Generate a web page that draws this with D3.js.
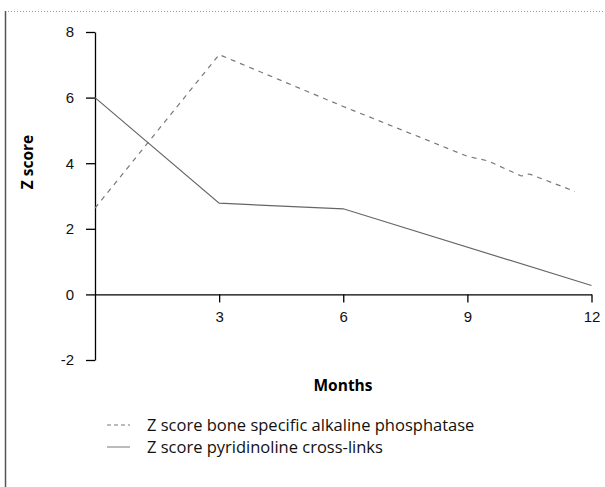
<!DOCTYPE html>
<html>
<head>
<meta charset="utf-8">
<script src="https://cdn.jsdelivr.net/npm/d3@7"></script>
<style>
  body { margin: 0; background: #fff; }
  svg { display: block; font-family: "Open Sans", sans-serif; }
</style>
</head>
<body>
<div id="container"></div>
<script>
/* CONSTANTS AND GLOBALS */
const width = 605,
  height = 487;

/* DATA */
const alpMonths = [0, 3, 6, 9, 9.5, 10.3, 10.5, 11.6];
const alpValues = [2.63, 7.31, 5.73, 4.21, 4.07, 3.61, 3.67, 3.14];
const pyrMonths = [0, 3, 6, 12];
const pyrValues = [6.0, 2.78, 2.61, 0.27];
const xTicks = [3, 6, 9, 12];
const yTicks = [-2, 0, 2, 4, 6, 8];
const legendLabels = ["Z score bone specific alkaline phosphatase", "Z score pyridinoline cross-links"];

const alpData = alpMonths.map((m, i) => ({ m, v: alpValues[i] }));
const pyrData = pyrMonths.map((m, i) => ({ m, v: pyrValues[i] }));

const svg = d3.select("#container")
  .append("svg")
  .attr("width", width)
  .attr("height", height);

// frame bits: dotted top rule and left rule
svg.append("line")
  .attr("x1", 5).attr("x2", width)
  .attr("y1", 11.5).attr("y2", 11.5)
  .attr("stroke", "#999")
  .attr("stroke-dasharray", "1,2");
svg.append("line")
  .attr("x1", 5.5).attr("x2", 5.5)
  .attr("y1", 11).attr("y2", height)
  .attr("stroke", "#555")
  .attr("stroke-width", 1.5);

/* SCALES */
const xScale = d3.scaleLinear()
  .domain([0, 12])
  .range([95, 591.5]);
const yScale = d3.scaleLinear()
  .domain([-2, 8])
  .range([360, 32]);

/* AXES */
const yAxis = svg.append("g")
  .attr("transform", `translate(${xScale(0)},0)`)
  .call(d3.axisLeft(yScale).tickValues(yTicks).tickSize(9).tickSizeOuter(0).tickPadding(12)
    .tickFormat(d => d < 0 ? "-" + Math.abs(d) : d));
yAxis.select(".domain").attr("stroke-width", 1.3);
yAxis.selectAll(".tick line").attr("stroke-width", 1.3);
yAxis.selectAll("text").attr("font-size", 15).attr("fill", "#111");

const xAxis = svg.append("g")
  .attr("transform", `translate(0,${yScale(0)})`)
  .call(d3.axisBottom(xScale).tickValues(xTicks).tickSize(8).tickSizeOuter(0).tickPadding(9));
xAxis.select(".domain").attr("stroke-width", 1.3);
xAxis.selectAll(".tick line").attr("stroke-width", 1.3);
xAxis.selectAll("text").attr("font-size", 15).attr("fill", "#111");

/* LINES */
const line = d3.line()
  .x(d => xScale(d.m))
  .y(d => yScale(d.v));

svg.append("path")
  .datum(alpData)
  .attr("d", line)
  .attr("fill", "none")
  .attr("stroke", "#777")
  .attr("stroke-width", 1.2)
  .attr("stroke-dasharray", "5,5");

svg.append("path")
  .datum(pyrData)
  .attr("d", line)
  .attr("fill", "none")
  .attr("stroke", "#666")
  .attr("stroke-width", 1.2);

/* LABELS */
svg.append("text")
  .attr("x", 343)
  .attr("y", 391)
  .attr("text-anchor", "middle")
  .attr("font-size", 15.5)
  .attr("font-weight", "bold")
  .text("Months");

svg.append("text")
  .attr("transform", "translate(33,162) rotate(-90)")
  .attr("text-anchor", "middle")
  .attr("font-size", 15.5)
  .attr("font-weight", "bold")
  .text("Z score");

/* LEGEND */
const legend = svg.selectAll(".legend")
  .data(legendLabels)
  .join("g")
  .attr("class", "legend")
  .attr("transform", (d, i) => `translate(107,${425 + i * 22})`);

legend.append("line")
  .attr("x1", 0).attr("x2", 23)
  .attr("y1", 0).attr("y2", 0)
  .attr("stroke", "#777")
  .attr("stroke-dasharray", (d, i) => i === 0 ? "4,3" : null);

legend.append("text")
  .attr("x", 40)
  .attr("y", 6)
  .attr("font-size", 16.5)
  .attr("fill", "#111")
  .text(d => d);
</script>
</body>
</html>
